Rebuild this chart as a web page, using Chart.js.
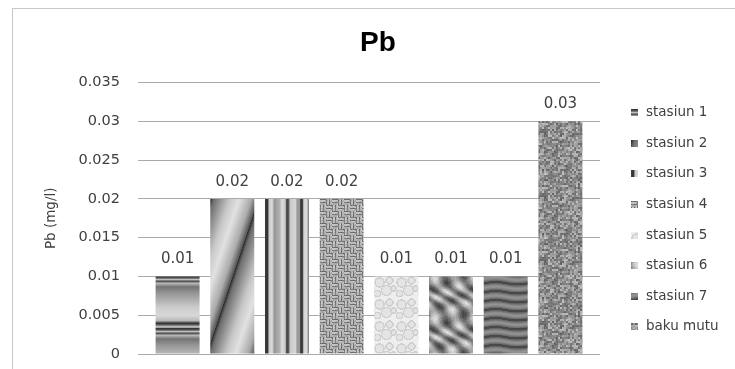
<!DOCTYPE html>
<html>
<head>
<meta charset="utf-8">
<script src="https://cdn.jsdelivr.net/npm/chart.js@4.4.1/dist/chart.umd.min.js"></script>
<style>
  html, body { margin: 0; padding: 0; background: #ffffff; }
  canvas { display: block; }
</style>
</head>
<body>
<canvas id="c" width="735" height="369"></canvas>
<script>
// ---- data ----
const categories = ['Pb'];
const seriesNames = ['stasiun 1', 'stasiun 2', 'stasiun 3', 'stasiun 4', 'stasiun 5', 'stasiun 6', 'stasiun 7', 'baku mutu'];
const seriesValues = [0.01, 0.02, 0.02, 0.02, 0.01, 0.01, 0.01, 0.03];
const valueLabels = ['0.01', '0.02', '0.02', '0.02', '0.01', '0.01', '0.01', '0.03'];
const yTickLabels = ['0', '0.005', '0.01', '0.015', '0.02', '0.025', '0.03', '0.035'];
const chartTitle = 'Pb';
const yAxisTitle = 'Pb (mg/l)';

// ---- texture helpers (styling only) ----
function hash(x, y) {
  let n = (Math.imul(x, 374761393) + Math.imul(y, 668265263)) | 0;
  n = Math.imul(n ^ (n >>> 13), 1274126177);
  n = n ^ (n >>> 16);
  return (n >>> 0) / 4294967296;
}
function ramp(stops, t) {
  for (let i = 1; i < stops.length; i++) {
    if (t <= stops[i][0]) {
      const a = stops[i - 1], b = stops[i];
      const f = (t - a[0]) / (b[0] - a[0] || 1);
      return a[1] + (b[1] - a[1]) * f;
    }
  }
  return stops[stops.length - 1][1];
}
function makeTile(w, h, fn) {
  const cv = document.createElement('canvas');
  cv.width = w; cv.height = h;
  const cx = cv.getContext('2d');
  const img = cx.createImageData(w, h);
  for (let y = 0; y < h; y++) {
    for (let x = 0; x < w; x++) {
      let v = Math.max(0, Math.min(255, Math.round(fn(x, y))));
      const k = (y * w + x) * 4;
      img.data[k] = v; img.data[k + 1] = v; img.data[k + 2] = v; img.data[k + 3] = 255;
    }
  }
  cx.putImageData(img, 0, 0);
  return cv;
}
const TAU = Math.PI * 2;
const tileMakers = [
  // stasiun 1: horizontal gradient bands
  () => makeTile(4, 52, (x, y) => ramp([[0,55],[0.03,90],[0.06,200],[0.09,70],[0.13,185],[0.2,115],[0.32,150],[0.45,175],[0.6,205],[0.75,215],[0.85,185],[0.9,45],[0.94,120],[0.97,210],[1,90]], y / 52)),
  // stasiun 2: slanted gradient stripes
  () => makeTile(48, 144, (x, y) => ramp([[0,45],[0.07,110],[0.4,200],[0.6,225],[0.85,170],[1,80]], (((x + y / 3) % 48) + 48) % 48 / 48)),
  // stasiun 3: vertical stripes
  () => makeTile(44, 4, (x, y) => ramp([[0,60],[0.05,50],[0.08,200],[0.15,220],[0.2,150],[0.33,180],[0.37,220],[0.45,200],[0.48,70],[0.52,80],[0.56,200],[0.68,215],[0.72,150],[0.77,160],[0.8,55],[0.84,60],[0.87,210],[0.93,220],[0.97,160],[1,60]], x / 44)),
  // stasiun 4: woven / basket texture
  () => makeTile(12, 12, (x, y) => {
    const cx = Math.floor(x / 6), cy = Math.floor(y / 6);
    const n = hash(x, y) * 40 - 20;
    if ((cx + cy) % 2 === 0) return (y % 3 === 0 ? 120 : 185) + n;
    return (x % 3 === 0 ? 120 : 185) + n;
  }),
  // stasiun 5: light bubbles
  () => {
    const centers = [[5,6,4.5],[15,4,3.5],[12,14,5],[3,17,3],[19,12,2.5]];
    return makeTile(22, 22, (x, y) => {
      let v = 238;
      for (const [cx, cy, r] of centers) {
        let dx = Math.abs(x - cx); dx = Math.min(dx, 22 - dx);
        let dy = Math.abs(y - cy); dy = Math.min(dy, 22 - dy);
        const d = Math.sqrt(dx * dx + dy * dy);
        if (Math.abs(d - r) < 0.7) v = Math.min(v, 208);
        else if (d < r) v = Math.min(v, 228);
      }
      return v;
    });
  },
  // stasiun 6: marble diagonal streaks
  () => makeTile(40, 40, (x, y) => 145 + 50 * Math.sin(TAU * (x - y) / 20 + 1.6 * Math.sin(TAU * y / 40)) + 25 * Math.sin(TAU * (x + 2 * y) / 40) + 20 * hash(x, y) - 10),
  // stasiun 7: dark horizontal wavy bands
  () => makeTile(44, 9, (x, y) => {
    const s = Math.sin(TAU * (y + 1.2 * Math.sin(TAU * x / 44)) / 9);
    return s < -0.75 ? 72 : 118 + 28 * s;
  }),
  // baku mutu: granite noise
  () => makeTile(64, 64, (x, y) => 100 + 90 * hash(Math.floor(x / 2) % 32, Math.floor(y / 2) % 32) + 20 * hash(x + 91, y + 7) - 10)
];
const tiles = tileMakers.map(f => f());
const patCtx = document.createElement('canvas').getContext('2d');
const barPatterns = tiles.map(t => patCtx.createPattern(t, 'repeat'));

// ---- plugins ----
const frame = {
  id: 'frame',
  beforeDraw(chart) {
    const ctx = chart.ctx;
    ctx.save();
    ctx.fillStyle = '#ffffff';
    ctx.fillRect(0, 0, chart.width, chart.height);
    ctx.strokeStyle = '#c6c6c6';
    ctx.lineWidth = 1;
    ctx.strokeRect(12.5, 8.5, chart.width + 20, chart.height + 20);
    ctx.restore();
  }
};
const alignPatterns = {
  id: 'alignPatterns',
  beforeDatasetsDraw(chart) {
    chart.data.datasets.forEach((ds, i) => {
      const el = chart.getDatasetMeta(i).data[0];
      const p = ds.backgroundColor;
      if (el && p && p.setTransform) {
        p.setTransform(new DOMMatrix([1, 0, 0, 1, Math.round(el.x - el.width / 2), Math.round(el.y)]));
      }
    });
  }
};
const valueLabelPlugin = {
  id: 'valueLabels',
  afterDatasetsDraw(chart) {
    const ctx = chart.ctx;
    ctx.save();
    ctx.font = '15px "DejaVu Sans"';
    ctx.fillStyle = '#404040';
    ctx.textAlign = 'center';
    ctx.textBaseline = 'middle';
    chart.data.datasets.forEach((ds, i) => {
      const el = chart.getDatasetMeta(i).data[0];
      ctx.fillText(valueLabels[i], el.x, el.y - 17);
    });
    ctx.restore();
  }
};
const sideLegend = {
  id: 'sideLegend',
  afterDraw(chart) {
    const ctx = chart.ctx;
    const area = chart.chartArea;
    const n = chart.data.datasets.length;
    const gap = 30.57;
    const cy = (area.top + area.bottom) / 2 + 1.5;
    const y0 = cy - gap * (n - 1) / 2;
    const bx = area.right + 31;
    ctx.save();
    ctx.font = '13.5px "DejaVu Sans"';
    ctx.fillStyle = '#404040';
    ctx.textAlign = 'left';
    ctx.textBaseline = 'middle';
    chart.data.datasets.forEach((ds, i) => {
      const y = y0 + gap * i;
      const pat = ctx.createPattern(tiles[i], 'repeat');
      pat.setTransform(new DOMMatrix([1, 0, 0, 1, bx, Math.round(y - 3.5)]));
      ctx.fillStyle = pat;
      ctx.fillRect(bx, Math.round(y - 3.5), 7, 7);
      ctx.fillStyle = '#404040';
      ctx.fillText(ds.label, bx + 15, y);
    });
    ctx.restore();
  }
};

Chart.defaults.font.family = '"DejaVu Sans", sans-serif';

new Chart(document.getElementById('c'), {
  type: 'bar',
  data: {
    labels: categories,
    datasets: seriesNames.map((name, i) => ({
      label: name,
      data: [seriesValues[i]],
      backgroundColor: barPatterns[i],
      borderWidth: 0
    }))
  },
  options: {
    responsive: false,
    animation: false,
    devicePixelRatio: 1,
    categoryPercentage: 0.947,
    barPercentage: 0.804,
    layout: { padding: { left: 21, right: 0, top: 0, bottom: 15 } },
    plugins: {
      legend: { display: false },
      tooltip: { enabled: false },
      title: {
        display: true,
        text: chartTitle,
        color: '#000000',
        font: { family: '"Liberation Sans", Arial, sans-serif', size: 28, weight: 'bold' },
        padding: { top: 26, bottom: 23 }
      }
    },
    scales: {
      x: { display: false },
      y: {
        min: 0,
        max: 0.035,
        ticks: {
          stepSize: 0.005,
          padding: 0,
          color: '#404040',
          font: { size: 14.5 },
          callback: (v, i) => yTickLabels[i]
        },
        grid: { color: '#aaaaaa', lineWidth: 1, drawTicks: true, tickLength: 18, tickColor: 'rgba(0,0,0,0)' },
        border: { display: false },
        title: {
          display: true,
          text: yAxisTitle,
          color: '#404040',
          font: { size: 13.5 },
          padding: { top: 22, bottom: 0 }
        },
        afterFit: s => { s.width = 117; }
      },
      yr: {
        axis: 'y',
        type: 'linear',
        position: 'right',
        display: true,
        grid: { display: false, drawTicks: false },
        border: { display: false },
        ticks: { display: false },
        afterFit: s => { s.width = 135; }
      }
    }
  },
  plugins: [frame, alignPatterns, valueLabelPlugin, sideLegend]
});
</script>
</body>
</html>
